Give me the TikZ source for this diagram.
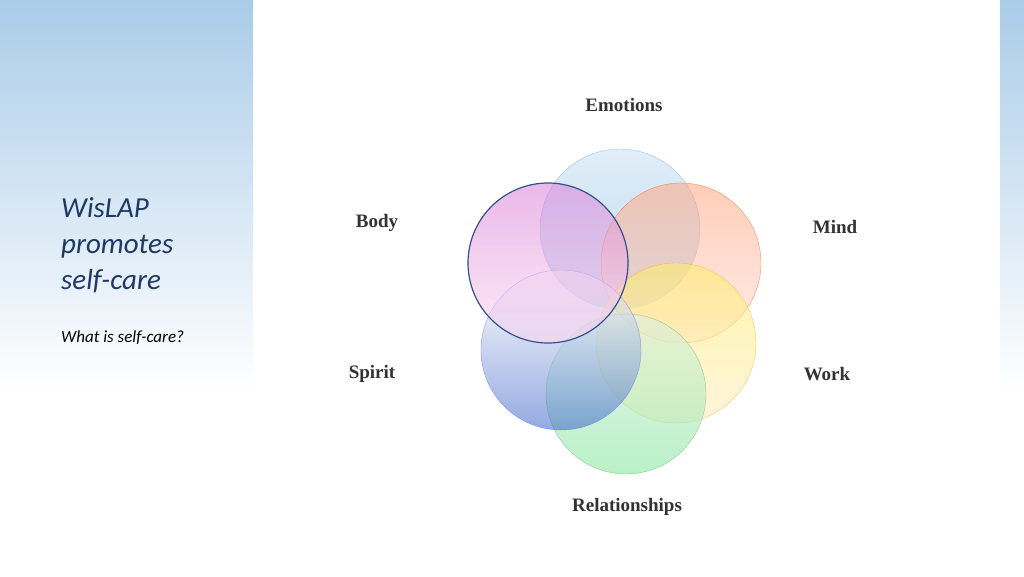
\documentclass[tikz,border=0pt]{standalone}
\usepackage{fontspec}
\newfontfamily\carl{Carlito}
\newfontfamily\lser{Liberation Serif}
\begin{document}
\begin{tikzpicture}[x=1pt,y=-1pt,
 circ/.style={circle,minimum size=160pt,inner sep=0pt,fill opacity=0.55,draw opacity=0.6},
 lab/.style={font=\lser\bfseries\fontsize{19}{21}\selectfont,text=black!80}]
\useasboundingbox (0,0) rectangle (1024,576);
\fill[white] (0,0) rectangle (1024,576);
\shade[top color={rgb,255:red,170;green,204;blue,232},bottom color=white] (0,0) rectangle (253,390);
\shade[top color={rgb,255:red,170;green,204;blue,232},bottom color=white] (1000,0) rectangle (1024,390);
\node[circ,top color={rgb,255:red,200;green,225;blue,245},bottom color={rgb,255:red,140;green,180;blue,220},draw={rgb,255:red,120;green,160;blue,210}] (em) at (620,229) {};
\node[circ,top color=orange!60!red!50,bottom color=orange!25!red!15,draw=orange!70!red] (mi) at (681,263) {};
\node[circ,top color=yellow!80!orange!60,bottom color=yellow!40!orange!25,draw=orange!70!yellow] (wo) at (676,343) {};
\node[circ,top color=green!25!teal!15,bottom color=green!60!teal!50,draw=green!50!black!60] (re) at (626,394) {};
\node[circ,top color=white,bottom color={rgb,255:red,60;green,100;blue,200},draw=blue!60] (sp) at (561,350) {};
\node[circ,top color=magenta!40!violet!50,bottom color=magenta!30!pink!30,draw={rgb,255:red,50;green,80;blue,140},draw opacity=1,line width=1.2pt] (bo) at (548,263) {};
\node[lab] (t1) at (624,105) {Emotions};
\node[lab] (t2) at (377,223) {Body};
\node[lab] (t3) at (835,227) {Mind};
\node[lab] (t4) at (372,374) {Spirit};
\node[lab] (t5) at (827,374) {Work};
\node[lab] (t6) at (627,507) {Relationships};
\node[anchor=north west,align=left,inner sep=0pt,font=\carl\itshape\fontsize{29}{36}\selectfont,text={rgb,255:red,31;green,56;blue,100}] (ti) at (61,197) {WisLAP\\promotes\\self-care};
\node[anchor=west,inner sep=0pt,font=\carl\itshape\fontsize{17}{18}\selectfont] (su) at (61,338) {What is self-care?};
\end{tikzpicture}
\end{document}
